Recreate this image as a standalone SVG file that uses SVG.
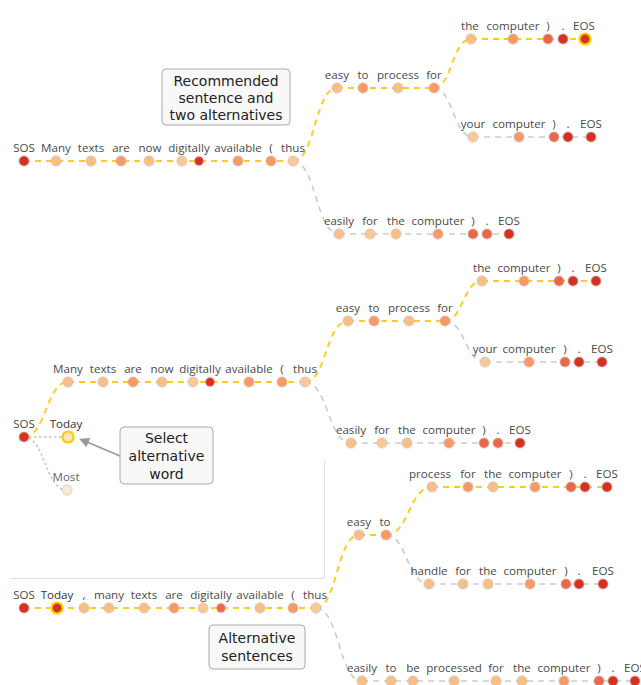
<svg xmlns="http://www.w3.org/2000/svg" width="641" height="685" viewBox="0 0 641 685">
<style>
.t{font-family:"Open Sans","DejaVu Sans",sans-serif;font-size:11.6px;fill:#4a4a4a;text-anchor:middle}
.d{stroke:rgba(190,190,190,0.35);stroke-width:2}
.L{fill:#fdbe86}.L2{fill:#fdc896}.M{fill:#fc9863}.O{fill:#ef6548}.D{fill:#d7301f}
.ring{stroke:#ffcc00;stroke-width:2.2}
.y{fill:none;stroke:#ffcc22;stroke-width:2;stroke-dasharray:6 5}
.g{fill:none;stroke:#cccccc;stroke-width:1.6;stroke-dasharray:6 5}
.dot{fill:none;stroke:#c4c4c4;stroke-width:1.5;stroke-dasharray:2.5 2.5}
.box{fill:#f8f8f8;stroke:#aaaaaa;stroke-width:1}
.bt{font-family:"DejaVu Sans","Verdana",sans-serif;font-size:14px;fill:#222;text-anchor:middle}
</style>
<defs>
<marker id="ah" markerWidth="10" markerHeight="10" refX="8" refY="5" orient="auto" markerUnits="userSpaceOnUse">
<path d="M0,0 L10,5 L0,10 z" fill="#999"/>
</marker>
</defs>
<g id="separators" stroke="#dddddd" stroke-width="1" fill="none">
<line x1="10" y1="578.5" x2="324" y2="578.5"/>
<line x1="324.5" y1="461" x2="324.5" y2="578"/>
</g>
<g id="connectors">
<path class="y" d="M24,161 H293"/>
<path class="y" d="M293,161 C315,161 315,88 337,88"/>
<path class="y" d="M337,88 H434"/>
<path class="y" d="M434,88 C452,88 452,39 471,39"/>
<path class="y" d="M471,39 H585"/>
<path class="g" d="M434,88 C453,88 453,137 473,137"/>
<path class="g" d="M473,137 H591"/>
<path class="g" d="M293,161 C316,161 316,234 339,234"/>
<path class="g" d="M339,234 H509"/>
<path class="y" d="M24,437 C46,437 46,382 68,382"/>
<path class="dot" d="M24,437 H68"/>
<path class="dot" d="M24,437 C45,437 45,490 67,490"/>
<path class="y" d="M68,382 H305"/>
<path class="y" d="M305,382 C326,382 326,321 348,321"/>
<path class="y" d="M348,321 H445"/>
<path class="y" d="M445,321 C463,321 463,281 482,281"/>
<path class="y" d="M482,281 H596"/>
<path class="g" d="M445,321 C465,321 465,362 485,362"/>
<path class="g" d="M485,362 H602"/>
<path class="g" d="M305,382 C328,382 328,443 351,443"/>
<path class="g" d="M351,443 H520"/>
<path class="y" d="M24,608 H316"/>
<path class="y" d="M316,608 C337,608 337,535 359,535"/>
<path class="y" d="M359,535 H386"/>
<path class="y" d="M386,535 C409,535 409,487 432,487"/>
<path class="y" d="M432,487 H607"/>
<path class="g" d="M386,535 C407,535 407,584 429,584"/>
<path class="g" d="M429,584 H603"/>
<path class="g" d="M316,608 C339,608 339,681 362,681"/>
<path class="g" d="M362,681 H635"/>
<line x1="120" y1="456" x2="81" y2="439.5" stroke="#999" stroke-width="1.5" marker-end="url(#ah)"/>
</g>
<g id="a0-sos"><circle class="d D" cx="24" cy="161" r="5"/><text class="t" x="24" y="152">SOS</text></g>
<g id="a0-many"><circle class="d L" cx="56" cy="161" r="5"/><text class="t" x="56" y="152">Many</text></g>
<g id="a0-texts"><circle class="d L" cx="91" cy="161" r="5"/><text class="t" x="91" y="152">texts</text></g>
<g id="a0-are"><circle class="d M" cx="121" cy="161" r="5"/><text class="t" x="121" y="152">are</text></g>
<g id="a0-now"><circle class="d L" cx="149" cy="161" r="5"/><text class="t" x="150" y="152">now</text></g>
<g id="a0-digit"><circle class="d L2" cx="182" cy="161" r="5"/><text class="t" x="189" y="152">digitally</text></g>
<g id="a0-ally"><circle class="d D" cx="199" cy="161" r="4.5"/></g>
<g id="a0-available"><circle class="d M" cx="238" cy="161" r="5"/><text class="t" x="238" y="152">available</text></g>
<g id="a0-paren"><circle class="d M" cx="271" cy="161" r="5"/><text class="t" x="271" y="152">(</text></g>
<g id="a0-thus"><circle class="d L2" cx="293" cy="161" r="5"/><text class="t" x="293" y="152">thus</text></g>
<g id="a1-easy"><circle class="d L" cx="337" cy="88" r="5"/><text class="t" x="337" y="79">easy</text></g>
<g id="a1-to"><circle class="d M" cx="363" cy="88" r="5"/><text class="t" x="363" y="79">to</text></g>
<g id="a1-process"><circle class="d L" cx="398" cy="88" r="5"/><text class="t" x="398" y="79">process</text></g>
<g id="a1-for"><circle class="d M" cx="434" cy="88" r="5"/><text class="t" x="434" y="79">for</text></g>
<g id="a2-the"><circle class="d L" cx="471" cy="39" r="5"/><text class="t" x="470" y="30">the</text></g>
<g id="a2-computer"><circle class="d M" cx="513" cy="39" r="5"/><text class="t" x="513" y="30">computer</text></g>
<g id="a2-rparen"><circle class="d O" cx="548" cy="39" r="5"/><text class="t" x="548" y="30">)</text></g>
<g id="a2-dot"><circle class="d D" cx="563" cy="39" r="5"/><text class="t" x="563" y="30">.</text></g>
<g id="a2-eos"><circle class="ring D" cx="585" cy="39" r="5.5"/><text class="t" x="584" y="30">EOS</text></g>
<g id="a3-your"><circle class="d L2" cx="473" cy="137" r="5"/><text class="t" x="473" y="128">your</text></g>
<g id="a3-computer"><circle class="d M" cx="519" cy="137" r="5"/><text class="t" x="519" y="128">computer</text></g>
<g id="a3-rparen"><circle class="d O" cx="554" cy="137" r="5"/><text class="t" x="554" y="128">)</text></g>
<g id="a3-dot"><circle class="d D" cx="568" cy="137" r="5"/><text class="t" x="568" y="128">.</text></g>
<g id="a3-eos"><circle class="d D" cx="591" cy="137" r="5"/><text class="t" x="591" y="128">EOS</text></g>
<g id="a4-easily"><circle class="d L" cx="339" cy="234" r="5"/><text class="t" x="339" y="225">easily</text></g>
<g id="a4-for"><circle class="d L2" cx="370" cy="234" r="5"/><text class="t" x="370" y="225">for</text></g>
<g id="a4-the"><circle class="d L" cx="396" cy="234" r="5"/><text class="t" x="396" y="225">the</text></g>
<g id="a4-computer"><circle class="d M" cx="438" cy="234" r="5"/><text class="t" x="438" y="225">computer</text></g>
<g id="a4-rparen"><circle class="d O" cx="473" cy="234" r="5"/><text class="t" x="473" y="225">)</text></g>
<g id="a4-dot"><circle class="d O" cx="487" cy="234" r="5"/><text class="t" x="487" y="225">.</text></g>
<g id="a4-eos"><circle class="d D" cx="509" cy="234" r="5"/><text class="t" x="509" y="225">EOS</text></g>
<g id="callout-recommended"><rect class="box" x="162" y="69" width="128" height="56" rx="4"/><text class="bt" x="226" y="86">Recommended</text><text class="bt" x="226" y="103">sentence and</text><text class="bt" x="226" y="120">two alternatives</text></g>
<g id="b-sos"><circle class="d D" cx="24" cy="437" r="5"/><text class="t" x="24" y="428">SOS</text></g>
<g id="b-today"><circle class="ring" fill="#fde2c6" cx="68" cy="437" r="5.5"/><text class="t" x="66" y="428" style="fill:#333">Today</text></g>
<g id="b-most"><circle class="d" fill="#fde8d4" cx="67" cy="490" r="5"/><text class="t" x="66" y="481" style="fill:#666">Most</text></g>
<g id="b0-many"><circle class="d L" cx="68" cy="382" r="5"/><text class="t" x="68" y="373">Many</text></g>
<g id="b0-texts"><circle class="d L" cx="103" cy="382" r="5"/><text class="t" x="103" y="373">texts</text></g>
<g id="b0-are"><circle class="d M" cx="133" cy="382" r="5"/><text class="t" x="133" y="373">are</text></g>
<g id="b0-now"><circle class="d L" cx="162" cy="382" r="5"/><text class="t" x="162" y="373">now</text></g>
<g id="b0-digit"><circle class="d L2" cx="193" cy="382" r="5"/><text class="t" x="200" y="373">digitally</text></g>
<g id="b0-ally"><circle class="d D" cx="210" cy="382" r="4.5"/></g>
<g id="b0-available"><circle class="d M" cx="249" cy="382" r="5"/><text class="t" x="249" y="373">available</text></g>
<g id="b0-paren"><circle class="d M" cx="282" cy="382" r="5"/><text class="t" x="282" y="373">(</text></g>
<g id="b0-thus"><circle class="d L2" cx="305" cy="382" r="5"/><text class="t" x="305" y="373">thus</text></g>
<g id="b1-easy"><circle class="d L" cx="348" cy="321" r="5"/><text class="t" x="348" y="312">easy</text></g>
<g id="b1-to"><circle class="d M" cx="374" cy="321" r="5"/><text class="t" x="374" y="312">to</text></g>
<g id="b1-process"><circle class="d L" cx="409" cy="321" r="5"/><text class="t" x="409" y="312">process</text></g>
<g id="b1-for"><circle class="d M" cx="445" cy="321" r="5"/><text class="t" x="445" y="312">for</text></g>
<g id="b2-the"><circle class="d L" cx="482" cy="281" r="5"/><text class="t" x="482" y="272">the</text></g>
<g id="b2-computer"><circle class="d M" cx="524" cy="281" r="5"/><text class="t" x="524" y="272">computer</text></g>
<g id="b2-rparen"><circle class="d O" cx="559" cy="281" r="5"/><text class="t" x="559" y="272">)</text></g>
<g id="b2-dot"><circle class="d D" cx="573" cy="281" r="5"/><text class="t" x="573" y="272">.</text></g>
<g id="b2-eos"><circle class="d D" cx="596" cy="281" r="5"/><text class="t" x="596" y="272">EOS</text></g>
<g id="b3-your"><circle class="d L2" cx="485" cy="362" r="5"/><text class="t" x="485" y="353">your</text></g>
<g id="b3-computer"><circle class="d M" cx="529" cy="362" r="5"/><text class="t" x="529" y="353">computer</text></g>
<g id="b3-rparen"><circle class="d O" cx="565" cy="362" r="5"/><text class="t" x="565" y="353">)</text></g>
<g id="b3-dot"><circle class="d D" cx="579" cy="362" r="5"/><text class="t" x="579" y="353">.</text></g>
<g id="b3-eos"><circle class="d D" cx="602" cy="362" r="5"/><text class="t" x="602" y="353">EOS</text></g>
<g id="b4-easily"><circle class="d L" cx="351" cy="443" r="5"/><text class="t" x="351" y="434">easily</text></g>
<g id="b4-for"><circle class="d L2" cx="382" cy="443" r="5"/><text class="t" x="382" y="434">for</text></g>
<g id="b4-the"><circle class="d L" cx="407" cy="443" r="5"/><text class="t" x="407" y="434">the</text></g>
<g id="b4-computer"><circle class="d M" cx="449" cy="443" r="5"/><text class="t" x="449" y="434">computer</text></g>
<g id="b4-rparen"><circle class="d O" cx="484" cy="443" r="5"/><text class="t" x="484" y="434">)</text></g>
<g id="b4-dot"><circle class="d O" cx="498" cy="443" r="5"/><text class="t" x="498" y="434">.</text></g>
<g id="b4-eos"><circle class="d D" cx="520" cy="443" r="5"/><text class="t" x="520" y="434">EOS</text></g>
<g id="callout-select"><rect class="box" x="120" y="427" width="93" height="57" rx="4"/><text class="bt" x="166.5" y="443">Select</text><text class="bt" x="166.5" y="461">alternative</text><text class="bt" x="166.5" y="479">word</text></g>
<g id="c0-sos"><circle class="d D" cx="24" cy="608" r="5"/><text class="t" x="24" y="599">SOS</text></g>
<g id="c0-today"><circle class="ring D" cx="57" cy="608" r="5.5"/><text class="t" x="57" y="599" style="fill:#333">Today</text></g>
<g id="c0-comma"><circle class="d L" cx="84" cy="608" r="5"/><text class="t" x="84" y="599">,</text></g>
<g id="c0-many"><circle class="d L" cx="109" cy="608" r="5"/><text class="t" x="109" y="599">many</text></g>
<g id="c0-texts"><circle class="d L" cx="144" cy="608" r="5"/><text class="t" x="144" y="599">texts</text></g>
<g id="c0-are"><circle class="d M" cx="174" cy="608" r="5"/><text class="t" x="174" y="599">are</text></g>
<g id="c0-digit"><circle class="d L2" cx="203" cy="608" r="5"/><text class="t" x="211" y="599">digitally</text></g>
<g id="c0-ally"><circle class="d O" cx="221" cy="608" r="4.5"/></g>
<g id="c0-available"><circle class="d L" cx="260" cy="608" r="5"/><text class="t" x="260" y="599">available</text></g>
<g id="c0-paren"><circle class="d M" cx="293" cy="608" r="5"/><text class="t" x="293" y="599">(</text></g>
<g id="c0-thus"><circle class="d L2" cx="316" cy="608" r="5"/><text class="t" x="315" y="599">thus</text></g>
<g id="c1-easy"><circle class="d L" cx="359" cy="535" r="5"/><text class="t" x="359" y="526">easy</text></g>
<g id="c1-to"><circle class="d M" cx="386" cy="535" r="5"/><text class="t" x="385" y="526">to</text></g>
<g id="c2-process"><circle class="d L" cx="432" cy="487" r="5"/><text class="t" x="430" y="478">process</text></g>
<g id="c2-for"><circle class="d M" cx="468" cy="487" r="5"/><text class="t" x="468" y="478">for</text></g>
<g id="c2-the"><circle class="d L" cx="493" cy="487" r="5"/><text class="t" x="493" y="478">the</text></g>
<g id="c2-computer"><circle class="d M" cx="535" cy="487" r="5"/><text class="t" x="535" y="478">computer</text></g>
<g id="c2-rparen"><circle class="d O" cx="571" cy="487" r="5"/><text class="t" x="571" y="478">)</text></g>
<g id="c2-dot"><circle class="d D" cx="585" cy="487" r="5"/><text class="t" x="585" y="478">.</text></g>
<g id="c2-eos"><circle class="d D" cx="607" cy="487" r="5"/><text class="t" x="607" y="478">EOS</text></g>
<g id="c3-handle"><circle class="d L" cx="429" cy="584" r="5"/><text class="t" x="429" y="575">handle</text></g>
<g id="c3-for"><circle class="d L" cx="463" cy="584" r="5"/><text class="t" x="463" y="575">for</text></g>
<g id="c3-the"><circle class="d L" cx="488" cy="584" r="5"/><text class="t" x="488" y="575">the</text></g>
<g id="c3-computer"><circle class="d M" cx="530" cy="584" r="5"/><text class="t" x="530" y="575">computer</text></g>
<g id="c3-rparen"><circle class="d O" cx="566" cy="584" r="5"/><text class="t" x="566" y="575">)</text></g>
<g id="c3-dot"><circle class="d D" cx="579" cy="584" r="5"/><text class="t" x="579" y="575">.</text></g>
<g id="c3-eos"><circle class="d D" cx="603" cy="584" r="5"/><text class="t" x="603" y="575">EOS</text></g>
<g id="c4-easily"><circle class="d L" cx="362" cy="681" r="5"/><text class="t" x="362" y="672">easily</text></g>
<g id="c4-to"><circle class="d L" cx="391" cy="681" r="5"/><text class="t" x="391" y="672">to</text></g>
<g id="c4-be"><circle class="d L" cx="413" cy="681" r="5"/><text class="t" x="413" y="672">be</text></g>
<g id="c4-processed"><circle class="d L" cx="454" cy="681" r="5"/><text class="t" x="454" y="672">processed</text></g>
<g id="c4-for"><circle class="d L" cx="496" cy="681" r="5"/><text class="t" x="496" y="672">for</text></g>
<g id="c4-the"><circle class="d L" cx="522" cy="681" r="5"/><text class="t" x="522" y="672">the</text></g>
<g id="c4-computer"><circle class="d M" cx="564" cy="681" r="5"/><text class="t" x="564" y="672">computer</text></g>
<g id="c4-rparen"><circle class="d O" cx="599" cy="681" r="5"/><text class="t" x="599" y="672">)</text></g>
<g id="c4-dot"><circle class="d D" cx="613" cy="681" r="5"/><text class="t" x="613" y="672">.</text></g>
<g id="c4-eos"><circle class="d D" cx="635" cy="681" r="5"/><text class="t" x="635" y="672">EOS</text></g>
<g id="callout-alternative"><rect class="box" x="209" y="625" width="96" height="44" rx="4"/><text class="bt" x="257" y="643">Alternative</text><text class="bt" x="257" y="661">sentences</text></g>
</svg>
